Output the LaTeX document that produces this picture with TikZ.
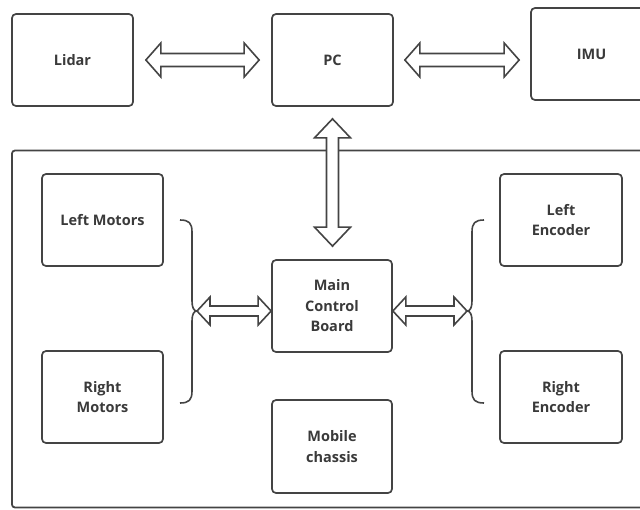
\documentclass[tikz,border=0pt]{standalone}
\usepackage{fontspec}
\setmainfont{Open Sans}
\usetikzlibrary{calc}
\definecolor{ln}{HTML}{444444}
\definecolor{tx}{HTML}{3A3A3A}
\newcommand\dblH[5]{% left tip, right tip, head half, shaft half, head length
  \draw[blk] let \p1=(#1),\p2=(#2) in
   (\x1,\y1) -- (\x1+#5pt,\y1+#3pt) -- (\x1+#5pt,\y1+#4pt) -- (\x2-#5pt,\y1+#4pt)
   -- (\x2-#5pt,\y1+#3pt) -- (\x2,\y1) -- (\x2-#5pt,\y1-#3pt) -- (\x2-#5pt,\y1-#4pt)
   -- (\x1+#5pt,\y1-#4pt) -- (\x1+#5pt,\y1-#3pt) -- cycle;}
\newcommand\dblV[5]{% top tip, bottom tip, head half, shaft half, head length
  \draw[blk] let \p1=(#1),\p2=(#2) in
   (\x1,\y1) -- (\x1+#3pt,\y1-#5pt) -- (\x1+#4pt,\y1-#5pt) -- (\x1+#4pt,\y2+#5pt)
   -- (\x1+#3pt,\y2+#5pt) -- (\x1,\y2) -- (\x1-#3pt,\y2+#5pt) -- (\x1-#4pt,\y2+#5pt)
   -- (\x1-#4pt,\y1-#5pt) -- (\x1-#3pt,\y1-#5pt) -- cycle;}
\begin{document}
\begin{tikzpicture}[x=1pt,y=-1pt,
  box/.style={draw=ln,line width=1.7pt,rounded corners=4pt,fill=white,
    minimum width=121pt,minimum height=92pt,inner sep=0pt,
    text=tx,font=\bfseries\fontsize{14.5}{20.5}\selectfont,align=center},
  blk/.style={draw=ln,line width=1.6pt,fill=white,line join=miter},
  brc/.style={draw=ln,line width=1.6pt}]
\useasboundingbox (0,0) rectangle (640,509);
\clip (0,0) rectangle (640,509);
% outer chassis frame
\draw[ln,line width=1.8pt,rounded corners=3pt] (12,150.5) rectangle (680,507.5);
% top row
\node[box] (lidar) at (72.5,60) {Lidar};
\node[box] (pc) at (332.5,60) {PC};
\node[box] (imu) at (591.5,54) {IMU};
% inside
\node[box] (lm) at (102.5,220) {Left Motors};
\node[box] (rm) at (102.5,397) {Right\\Motors};
\node[box,minimum width=120pt] (main) at (332,306) {Main\\Control\\Board};
\node[box,minimum width=120pt,minimum height=93pt] (mob) at (332,446.5) {Mobile\\chassis};
\node[box,minimum width=122pt] (le) at (561,220) {Left\\Encoder};
\node[box,minimum width=122pt] (re) at (561,397) {Right\\Encoder};
% braces
\coordinate (lb) at (197,311);
\coordinate (rb) at (467,311);
\draw[brc] (180,220) .. controls (189,220) and (192,223) .. (192,232) -- (192,301)
  .. controls (192,308) and (194,311) .. (lb)
  .. controls (194,311) and (192,314) .. (192,321) -- (192,391)
  .. controls (192,400) and (189,403) .. (180,403);
\draw[brc] (484,220) .. controls (475,220) and (472,223) .. (472,232) -- (472,301)
  .. controls (472,308) and (470,311) .. (rb)
  .. controls (470,311) and (472,314) .. (472,321) -- (472,391)
  .. controls (472,400) and (475,403) .. (484,403);
% arrows
\coordinate (a1) at ($(lidar.east)+(12,0)$);
\coordinate (a2) at ($(pc.west)+(-12,0)$);
\dblH{a1}{a2}{17}{6.5}{15}
\coordinate (b1) at ($(pc.east)+(11,0)$);
\coordinate (b2) at ($(pc.east -| imu.west)+(-11,0)$);
\dblH{b1}{b2}{17}{6.5}{15}
\coordinate (c1) at ($(pc.south)+(0,12)$);
\coordinate (c2) at ($(pc.south |- main.north)+(0,-13)$);
\dblV{c1}{c2}{18}{6}{19}
\coordinate (d2) at (lb -| main.west);
\dblH{lb}{d2}{14}{5}{13}
\coordinate (e1) at (rb -| main.east);
\dblH{e1}{rb}{14}{5}{13}
\end{tikzpicture}
\end{document}
